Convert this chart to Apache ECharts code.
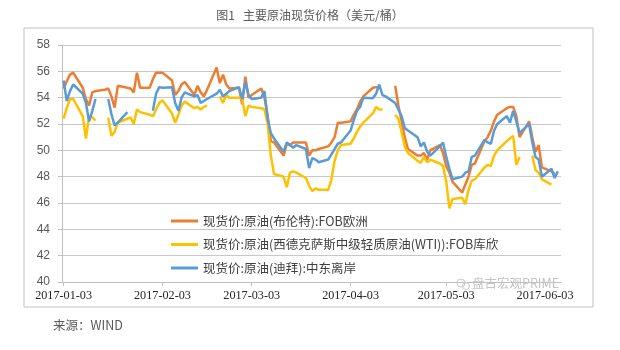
<!DOCTYPE html>
<html>
<head>
<meta charset="utf-8">
<script src="https://cdn.jsdelivr.net/npm/echarts@6/dist/echarts.min.js"></script>
<style>
  html, body { margin: 0; padding: 0; background: #ffffff; }
  #chart { width: 620px; height: 350px; }
</style>
</head>
<body>
<div id="chart"></div>
<script>
// Spot crude prices, USD per barrel, daily (null = no quote that day)
const titleText = '图1   主要原油现货价格（美元/桶）';
const sourceText = '来源：WIND';
const markText = '盘古宏观PRIME';

const seriesNames = [
  '现货价:原油(布伦特):FOB欧洲',
  '现货价:原油(西德克萨斯中级轻质原油(WTI)):FOB库欣',
  '现货价:原油(迪拜):中东离岸'
];

const tickDates = ['2017-01-03', '2017-02-03', '2017-03-03', '2017-04-03', '2017-05-03', '2017-06-03'];

const dates = [
  '2017-01-03','2017-01-04','2017-01-05','2017-01-06','2017-01-09','2017-01-10','2017-01-11','2017-01-12','2017-01-13',
  '2017-01-16','2017-01-17','2017-01-18','2017-01-19','2017-01-20','2017-01-23','2017-01-24','2017-01-25','2017-01-26',
  '2017-01-27','2017-01-30','2017-01-31',
  '2017-02-01','2017-02-02','2017-02-03','2017-02-06','2017-02-07','2017-02-08','2017-02-09','2017-02-10','2017-02-13',
  '2017-02-14','2017-02-15','2017-02-16','2017-02-17','2017-02-20','2017-02-21','2017-02-22','2017-02-23','2017-02-24',
  '2017-02-27','2017-02-28',
  '2017-03-01','2017-03-02','2017-03-03','2017-03-06','2017-03-07','2017-03-08','2017-03-09','2017-03-10','2017-03-13',
  '2017-03-14','2017-03-15','2017-03-16','2017-03-17','2017-03-20','2017-03-21','2017-03-22','2017-03-23','2017-03-24',
  '2017-03-27','2017-03-28','2017-03-29','2017-03-30','2017-03-31',
  '2017-04-03','2017-04-04','2017-04-05','2017-04-06','2017-04-07','2017-04-10','2017-04-11','2017-04-12','2017-04-13',
  '2017-04-14','2017-04-17','2017-04-18','2017-04-19','2017-04-20','2017-04-21','2017-04-24','2017-04-25','2017-04-26',
  '2017-04-27','2017-04-28',
  '2017-05-01','2017-05-02','2017-05-03','2017-05-04','2017-05-05','2017-05-08','2017-05-09','2017-05-10','2017-05-11',
  '2017-05-12','2017-05-15','2017-05-16','2017-05-17','2017-05-18','2017-05-19','2017-05-22','2017-05-23','2017-05-24',
  '2017-05-25','2017-05-26','2017-05-29','2017-05-30','2017-05-31',
  '2017-06-01','2017-06-02','2017-06-05','2017-06-06','2017-06-07'
];

const brent = [
  54.7, 55.25, 55.75, 55.9, 54.75, 53.9, 53.4, 54.4, 54.5, 54.6, 54.7, 54.1, 53.25, 54.9, 54.75, 54.7, 54.4, 55.9, 54.75, 54.75, 55.4,
  55.9, 55.9, 55.9, 55.3, 54.2, 54.5, 55.0, 55.2, 54.2, 54.9, 54.4, 54.1, 54.6, 56.3, 55.1, 55.75, 55.0, 54.7, 54.75, 53.5,
  55.6, 54.0, 54.2, 54.7, 54.0, 52.6, 50.7, 50.6, 49.6, 50.5, 50.4, 50.6, 50.6, 50.6, 49.6, 50.0, 50.0, 50.1, 50.3, 50.6, 51.0, 52.1, 52.1,
  52.2, 52.7, 53.1, 53.7, 54.1, 54.75, 54.8, 54.7, null, null, 54.9, 53.4, 52.2, 51.0, 50.1, 49.6, 49.6, 49.8, 49.3, 50.0,
  50.4, 49.8, 48.8, 48.3, 47.6, 46.8, 47.4, 48.0, 48.9, 49.0, 50.7, 51.0, 51.5, 52.2, 52.7, 53.2, 53.3, 53.3, 52.6, 51.0, 52.2, 51.0, 49.9,
  50.4, 48.7, 48.4, 48.2, null
];

const wti = [
  52.4, 53.2, 53.9, 53.9, 52.6, 50.9, 52.6, 52.5, 52.25, null, 52.5, 51.1, 51.4, 52.1, 52.4, 52.5, 52.0, 53.1, 52.9, 52.7, 52.6,
  53.1, 53.6, 53.8, 52.8, 52.1, 52.7, 53.4, 53.7, 53.2, 53.3, 53.1, 53.3, 53.4, null, 54.1, 53.6, 54.2, 54.0, 54.0, 53.9,
  52.6, 53.4, 53.3, 53.2, 53.1, 52.0, 49.6, 48.2, 48.0, 47.2, 48.3, 48.4, 48.3, 47.9, 47.3, 46.9, 47.1, 47.0, 47.0, 47.8, 49.2, 50.0, 50.4,
  50.5, 50.9, 51.4, 51.8, 52.1, 52.8, 53.3, 53.1, 53.1, null, 52.7, 52.4, 51.4, 50.3, 49.8, 49.2, 49.05, 49.5, 49.1, 49.3,
  49.0, 48.8, 47.65, 45.6, 46.3, 46.4, 45.9, 47.0, 47.7, 47.8, 48.7, 48.9, 48.8, 49.6, 50.0, 50.7, 50.9, 51.1, 48.9, 49.5, null, 49.6, 48.5,
  48.3, 47.8, 47.4, null, null
];

const dubai = [
  55.3, 53.75, 54.5, 55.0, 54.3, 53.6, 52.2, 53.0, 53.9, null, 53.9, 52.75, 51.9, 52.1, 52.9, null, null, null, null, null, 53.0,
  54.3, 54.8, 54.75, 54.8, 53.6, 53.0, 54.0, 54.4, 54.1, 54.2, 53.6, 53.75, 53.9, 54.3, 54.6, 54.1, 54.3, 54.5, 54.8, 53.9,
  55.2, 54.2, 53.9, 54.0, 54.5, 52.4, 51.3, 50.9, 49.9, 50.6, 50.4, 50.2, 50.4, 50.1, 48.65, 49.4, 49.3, 49.1, 49.3, 49.7, 50.1, 50.5, 50.6,
  51.5, 52.3, 53.0, 53.3, 54.0, 53.95, 54.3, 55.0, 54.2, 54.1, 53.6, 53.1, 52.6, 51.7, 51.5, 51.0, 50.3, 50.6, 49.9, 49.6,
  50.3, 50.6, 49.5, 48.6, 47.8, 48.0, 48.3, 48.4, 49.5, 49.6, 50.8, 50.6, 50.5, 51.5, 52.0, 52.6, 52.1, 53.0, 52.2, 51.3, 52.0, 50.6, 49.5,
  49.3, 48.0, 48.6, 47.9, 48.4
];

const lineColors = ['#ED7D31', '#FFC000', '#5B9BD5'];
const seriesValues = [brent, wti, dubai];

// calendar dates -> millisecond positions on a plain numeric axis
function toTime(s) {
  const p = s.split('-').map(Number);
  return Date.UTC(p[0], p[1] - 1, p[2]);
}
const DAY = 86400000;
const tickValues = tickDates.map(toTime);
const tickLabelOf = {};
tickDates.forEach(function (s, i) { tickLabelOf[tickValues[i]] = s; });

const chart = echarts.init(document.getElementById('chart'), null, { renderer: 'canvas' });

const option = {
  animation: false,
  backgroundColor: '#ffffff',
  grid: { left: 62, right: 59, top: 45, bottom: 68, containLabel: false },
  xAxis: {
    type: 'value',
    min: toTime('2017-01-03') - DAY / 2,
    max: toTime('2017-06-08'),
    axisLine: { show: true, onZero: false, lineStyle: { color: '#bfbfbf', width: 1 } },
    axisTick: { show: true, customValues: tickValues, length: 4, lineStyle: { color: '#bfbfbf' } },
    axisLabel: {
      customValues: tickValues,
      formatter: function (v) { return tickLabelOf[v] || ''; },
      fontFamily: 'Liberation Serif',
      fontSize: 12.2,
      color: '#262626',
      margin: 8,
      hideOverlap: false
    },
    splitLine: { show: false }
  },
  yAxis: {
    type: 'value',
    min: 40,
    max: 58,
    interval: 2,
    axisLine: { show: true, lineStyle: { color: '#bfbfbf', width: 1 } },
    axisTick: { show: true, length: 4, lineStyle: { color: '#bfbfbf' } },
    axisLabel: { fontFamily: 'Liberation Sans', fontSize: 12, color: '#595959', margin: 12 },
    splitLine: { lineStyle: { color: '#c8c8c8', width: 1.2 } }
  },
  legend: {
    orient: 'vertical',
    left: 166,
    top: 208,
    icon: 'rect',
    itemWidth: 27,
    itemHeight: 3,
    itemGap: 7.5,
    textStyle: { fontFamily: 'Noto Sans CJK SC', fontSize: 12.5, color: '#404040', lineHeight: 16 },
    data: seriesNames
  },
  series: seriesNames.map(function (name, k) {
    return {
      name: name,
      type: 'line',
      showSymbol: false,
      connectNulls: false,
      color: lineColors[k],
      lineStyle: { width: 2.5, color: lineColors[k] },
      data: dates.map(function (d, i) { return [toTime(d), seriesValues[k][i]]; }),
      z: 2 + k
    };
  }),
  graphic: [
    {
      type: 'rect', silent: true, z: -1,
      shape: { x: 24, y: 28, width: 569, height: 279 },
      style: { fill: 'none', stroke: '#c0c0c0', lineWidth: 1 }
    },
    {
      type: 'text', left: 'center', top: 9,
      style: { text: titleText, fontFamily: 'Noto Sans CJK SC', fontSize: 12, fill: '#595959' }
    },
    {
      type: 'text', left: 53, top: 319,
      style: { text: sourceText, fontFamily: 'Noto Sans CJK SC', fontSize: 12.5, fill: '#595959' }
    },
    {
      type: 'circle', silent: true,
      shape: { cx: 461, cy: 283, r: 4 },
      style: { fill: 'none', stroke: '#cccccc', lineWidth: 1 }
    },
    {
      type: 'circle', silent: true,
      shape: { cx: 466, cy: 286, r: 3.5 },
      style: { fill: 'none', stroke: '#cccccc', lineWidth: 1 }
    },
    {
      type: 'text', left: 472, top: 277,
      style: { text: markText, fontFamily: 'Noto Sans CJK SC', fontSize: 12.5, fill: '#c4c4c4' }
    }
  ]
};

chart.setOption(option);
</script>
</body>
</html>
